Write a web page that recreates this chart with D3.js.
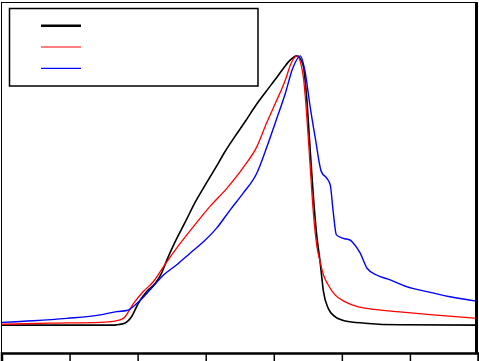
<!DOCTYPE html>
<html>
<head>
<meta charset="utf-8">
<script src="https://cdn.jsdelivr.net/npm/d3@7"></script>
<style>
  body { margin: 0; background: #fff; }
  svg { display: block; }
</style>
</head>
<body>
<svg width="479" height="361"></svg>
<script>
// series, x in channel units, y normalised
var blackX = [0, 164, 169, 181, 191, 201, 213, 226, 235, 243, 255, 270, 284, 299, 314, 328, 343, 358, 372, 387, 402, 414, 424, 434, 443, 448, 453, 458, 463, 468, 473, 480, 490, 505, 534, 585, 700];
var blackY = [0, 0, 0.001, 0.007, 0.031, 0.081, 0.124, 0.155, 0.192, 0.242, 0.309, 0.383, 0.454, 0.519, 0.582, 0.643, 0.701, 0.756, 0.81, 0.862, 0.912, 0.953, 0.984, 1.0, 0.966, 0.855, 0.669, 0.483, 0.335, 0.236, 0.124, 0.062, 0.031, 0.015, 0.007, 0.001, 0];

var redX = [0, 71, 145, 167, 179, 194, 208, 223, 238, 257, 282, 306, 331, 355, 375, 390, 402, 417, 425, 434, 443, 448, 453, 458, 463, 468, 473, 480, 490, 505, 524, 537, 585, 634, 700];
var redY = [0.003, 0.007, 0.01, 0.015, 0.025, 0.081, 0.124, 0.161, 0.217, 0.285, 0.366, 0.44, 0.508, 0.585, 0.662, 0.754, 0.822, 0.91, 0.97, 1.0, 0.929, 0.793, 0.607, 0.421, 0.298, 0.236, 0.186, 0.149, 0.112, 0.086, 0.068, 0.062, 0.049, 0.038, 0.025];

var blueX = [0, 47, 96, 145, 169, 184, 199, 218, 238, 257, 277, 297, 316, 336, 355, 375, 390, 402, 417, 428, 439, 446, 453, 461, 470, 478, 483, 487, 492, 502, 512, 517, 527, 537, 551, 571, 595, 625, 659, 700];
var blueY = [0.01, 0.016, 0.025, 0.038, 0.05, 0.054, 0.081, 0.13, 0.186, 0.223, 0.267, 0.31, 0.36, 0.428, 0.49, 0.564, 0.663, 0.75, 0.861, 0.955, 1.0, 0.941, 0.818, 0.694, 0.569, 0.545, 0.52, 0.428, 0.335, 0.322, 0.316, 0.304, 0.267, 0.211, 0.186, 0.168, 0.143, 0.124, 0.105, 0.088];

var xTicks = [100, 200, 300, 400, 500, 600];

var series = [
  { name: "black", color: "#000", width: 1.6, x: blackX, y: blackY },
  { name: "red", color: "#f00", width: 1.3, x: redX, y: redY },
  { name: "blue", color: "#00f", width: 1.4, x: blueX, y: blueY }
];

var svg = d3.select("svg");

var x = d3.scaleLinear().domain([0, 700]).range([1.5, 478]);
var y = d3.scaleLinear().domain([-0.1, 1.2]).range([352, 2]);

var line = d3.line()
  .x(function (d) { return x(d[0]); })
  .y(function (d) { return y(d[1]); })
  .curve(d3.curveMonotoneX);

// curves, black at the back
svg.selectAll("path.curve")
  .data(series)
  .join("path")
  .attr("class", "curve")
  .attr("fill", "none")
  .attr("stroke", function (d) { return d.color; })
  .attr("stroke-width", function (d) { return d.width; })
  .attr("d", function (d) { return line(d3.zip(d.x, d.y)); });

// frame: thin left/top, heavy right/bottom
svg.append("line").attr("x1", 1.5).attr("x2", 1.5).attr("y1", 2).attr("y2", 353)
  .attr("stroke", "#000").attr("stroke-width", 1);
svg.append("line").attr("x1", 1).attr("x2", 478).attr("y1", 2.5).attr("y2", 2.5)
  .attr("stroke", "#000").attr("stroke-width", 1);
svg.append("line").attr("x1", 476.5).attr("x2", 476.5).attr("y1", 2).attr("y2", 354)
  .attr("stroke", "#000").attr("stroke-width", 3);

// bottom axis, ticks only (labels fall outside the window)
var axis = svg.append("g")
  .attr("transform", "translate(0,353)")
  .call(d3.axisBottom(x).tickValues(xTicks).tickSize(9).tickFormat(""));
axis.select(".domain").attr("stroke-width", 2.5);
axis.selectAll(".tick line").attr("stroke-width", 1.5);

// legend box with sample lines
var legend = svg.append("g");
legend.append("rect")
  .attr("x", 9.5).attr("y", 8.5)
  .attr("width", 248.5).attr("height", 77.5)
  .attr("fill", "#fff")
  .attr("stroke", "#000")
  .attr("stroke-width", 1.5);

legend.selectAll("line.key")
  .data(series)
  .join("line")
  .attr("class", "key")
  .attr("x1", 41).attr("x2", 81)
  .attr("y1", function (d, i) { return 25.7 + i * 21.3; })
  .attr("y2", function (d, i) { return 25.7 + i * 21.3; })
  .attr("stroke", function (d) { return d.color; })
  .attr("stroke-width", function (d, i) { return i === 0 ? 2.5 : 1.2; });
</script>
</body>
</html>
